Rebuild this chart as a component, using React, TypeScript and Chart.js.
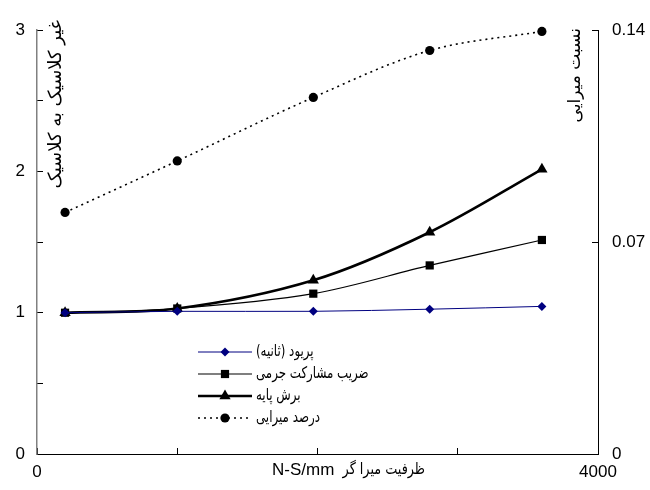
import React, { useEffect, useRef } from "react";
import { Chart, registerables } from "chart.js";

Chart.register(...registerables);

// ---- data ----
const capacities = [200, 1000, 1970, 2800, 3600];
const periodRatio = [1.0, 1.01, 1.01, 1.025, 1.045];
const massRatio = [1.0, 1.03, 1.135, 1.335, 1.515];
const shearRatio = [1.0, 1.03, 1.23, 1.57, 2.015];
const dampingRatio = [0.0798, 0.0968, 0.1178, 0.1333, 0.1396];

const seriesNames = ["پریود (ثانیه)", "ضریب مشارکت جرمی", "برش پایه", "درصد میرایی"];
const leftTickLabels = [0, 1, 2, 3];
const rightTickLabels = [0, 0.07, 0.14];
const xTickLabels = [0, 4000];
const leftTitle = "غیر کلاسیک به کلاسیک";
const rightTitle = "نسبت میرایی";
const xTitleFa = "ظرفیت میرا گر";
const xTitleUnit = "N-S/mm";

const LATIN = "'Liberation Sans', Arial, 'DejaVu Sans', sans-serif";
const ARABIC = "'DejaVu Sans', 'Liberation Sans', sans-serif";

function pts(vals: number[]) {
  return vals.map((v, i) => ({ x: capacities[i], y: v }));
}

function drawMarker(ctx: CanvasRenderingContext2D, style: string, x: number, y: number, r: number, color: string) {
  ctx.save();
  ctx.setLineDash([]);
  ctx.fillStyle = color;
  ctx.beginPath();
  if (style === "rectRot") {
    ctx.moveTo(x, y - r);
    ctx.lineTo(x + r, y);
    ctx.lineTo(x, y + r);
    ctx.lineTo(x - r, y);
    ctx.closePath();
  } else if (style === "rect") {
    const s = r * Math.SQRT1_2;
    ctx.rect(x - s, y - s, 2 * s, 2 * s);
  } else if (style === "triangle") {
    ctx.moveTo(x, y - r);
    ctx.lineTo(x + r * 0.866, y + r * 0.5);
    ctx.lineTo(x - r * 0.866, y + r * 0.5);
    ctx.closePath();
  } else {
    ctx.arc(x, y, r, 0, Math.PI * 2);
  }
  ctx.fill();
  ctx.restore();
}

const overlayPlugin = {
  id: "overlayTexts",
  afterDraw(chart: any) {
    const ctx: CanvasRenderingContext2D = chart.ctx;
    const area = chart.chartArea;
    ctx.save();
    ctx.fillStyle = "#000";
    ctx.textBaseline = "middle";
    (ctx as any).direction = "rtl";

    // left axis title (inside plot, rotated)
    ctx.save();
    ctx.font = `18px ${ARABIC}`;
    ctx.translate(area.left + 19, area.top + 74);
    ctx.rotate(-Math.PI / 2);
    ctx.textAlign = "center";
    ctx.fillText(leftTitle, 0, 0);
    ctx.restore();

    // right axis title
    ctx.save();
    ctx.font = `17px ${ARABIC}`;
    ctx.translate(area.right - 22, area.top + 45);
    ctx.rotate(-Math.PI / 2);
    ctx.textAlign = "center";
    ctx.fillText(rightTitle, 0, 0);
    ctx.restore();

    // x axis title: unit (latin) + persian words
    const ty = area.bottom + 16;
    ctx.save();
    (ctx as any).direction = "ltr";
    ctx.font = `17px ${LATIN}`;
    ctx.textAlign = "left";
    ctx.fillText(xTitleUnit, 272, ty);
    ctx.restore();
    ctx.save();
    ctx.font = `16px ${ARABIC}`;
    ctx.textAlign = "right";
    ctx.translate(425, ty);
    ctx.scale(0.8, 1);
    ctx.fillText(xTitleFa, 0, 0);
    ctx.restore();

    // legend
    const rowY = [352, 374, 396, 418];
    const x0 = 198;
    const x1 = 252;
    chart.data.datasets.forEach((ds: any, i: number) => {
      const y = rowY[i];
      ctx.save();
      ctx.strokeStyle = ds.borderColor;
      ctx.lineWidth = ds.borderWidth;
      ctx.setLineDash(ds.borderDash || []);
      ctx.beginPath();
      ctx.moveTo(x0, y);
      ctx.lineTo(x1, y);
      ctx.stroke();
      ctx.restore();
      drawMarker(ctx, ds.pointStyle, (x0 + x1) / 2, y, ds.pointRadius, ds.pointBackgroundColor);
      ctx.save();
      ctx.font = `16px ${ARABIC}`;
      ctx.textAlign = "left";
      (ctx as any).direction = "rtl";
      ctx.fillStyle = "#000";
      ctx.translate(x1 + 4, y);
      ctx.scale(0.74, 1);
      ctx.fillText(ds.label, 0, 0);
      ctx.restore();
    });
    ctx.restore();
  },
};

export default function App() {
  const ref = useRef<HTMLCanvasElement | null>(null);

  useEffect(() => {
    document.body.style.margin = "0";
    const canvas = ref.current;
    if (!canvas) return;
    const chart = new Chart(canvas, {
      type: "line",
      data: {
        datasets: [
          {
            label: seriesNames[0],
            data: pts(periodRatio),
            borderColor: "#000080",
            pointBackgroundColor: "#000080",
            pointBorderColor: "#000080",
            borderWidth: 1,
            pointStyle: "rectRot",
            pointRadius: 4.5,
            pointBorderWidth: 0,
            tension: 0.33,
            yAxisID: "y",
            clip: false,
          } as any,
          {
            label: seriesNames[1],
            data: pts(massRatio),
            borderColor: "#000",
            pointBackgroundColor: "#000",
            pointBorderColor: "#000",
            borderWidth: 1.2,
            pointStyle: "rect",
            pointRadius: 5.8,
            pointBorderWidth: 0,
            tension: 0.33,
            yAxisID: "y",
            clip: false,
          },
          {
            label: seriesNames[2],
            data: pts(shearRatio),
            borderColor: "#000",
            pointBackgroundColor: "#000",
            pointBorderColor: "#000",
            borderWidth: 2.6,
            pointStyle: "triangle",
            pointRadius: 6.5,
            pointBorderWidth: 0,
            tension: 0.33,
            yAxisID: "y",
            clip: false,
          },
          {
            label: seriesNames[3],
            data: pts(dampingRatio),
            borderColor: "#000",
            pointBackgroundColor: "#000",
            pointBorderColor: "#000",
            borderWidth: 1.6,
            borderDash: [2, 4],
            pointStyle: "circle",
            pointRadius: 4.6,
            pointBorderWidth: 0,
            tension: 0.33,
            yAxisID: "y1",
            clip: false,
          },
        ],
      },
      options: {
        animation: false,
        responsive: false,
        devicePixelRatio: 1,
        layout: { padding: { top: 26, left: 0, right: 0, bottom: 0 } },
        plugins: {
          legend: { display: false },
          tooltip: { enabled: false },
          title: { display: false },
        },
        scales: {
          x: {
            type: "linear",
            position: "bottom",
            min: 0,
            max: 4000,
            afterFit: (s: any) => {
              s.height = 36;
            },
            ticks: {
              stepSize: 1000,
              autoSkip: false,
              maxRotation: 0,
              padding: 14,
              color: "#000",
              font: { family: LATIN, size: 17 },
              callback: (v: any) => (xTickLabels.includes(Number(v)) ? String(v) : ""),
            },
            grid: { drawOnChartArea: false, drawTicks: true, tickLength: -6, color: "#000" },
            border: { display: true, color: "#000", width: 1 },
          },
          y: {
            type: "linear",
            position: "left",
            min: 0,
            max: 3,
            afterFit: (s: any) => {
              s.width = 37;
            },
            ticks: {
              stepSize: 0.5,
              autoSkip: false,
              padding: 18,
              color: "#000",
              font: { family: LATIN, size: 17 },
              callback: (v: any) => (leftTickLabels.includes(Number(v)) ? String(v) : ""),
            },
            grid: { drawOnChartArea: false, drawTicks: true, tickLength: -6, color: "#000" },
            border: { display: true, color: "#808080", width: 1.5 },
          },
          y1: {
            type: "linear",
            position: "right",
            min: 0,
            max: 0.14,
            afterFit: (s: any) => {
              s.width = 52;
            },
            ticks: {
              stepSize: 0.07,
              autoSkip: false,
              padding: 20,
              color: "#000",
              font: { family: LATIN, size: 17 },
              callback: (v: any) => {
                const n = Math.round(Number(v) * 100) / 100;
                return rightTickLabels.includes(n) ? String(n) : "";
              },
            },
            grid: { drawOnChartArea: false, drawTicks: true, tickLength: -6, color: "#000" },
            border: { display: true, color: "#000", width: 1, dash: [6, 4] },
          },
        },
      } as any,
      plugins: [overlayPlugin],
    });
    return () => chart.destroy();
  }, []);

  return (
    <div style={{ width: 650, height: 490 }}>
      <canvas ref={ref} width={650} height={490} />
    </div>
  );
}
